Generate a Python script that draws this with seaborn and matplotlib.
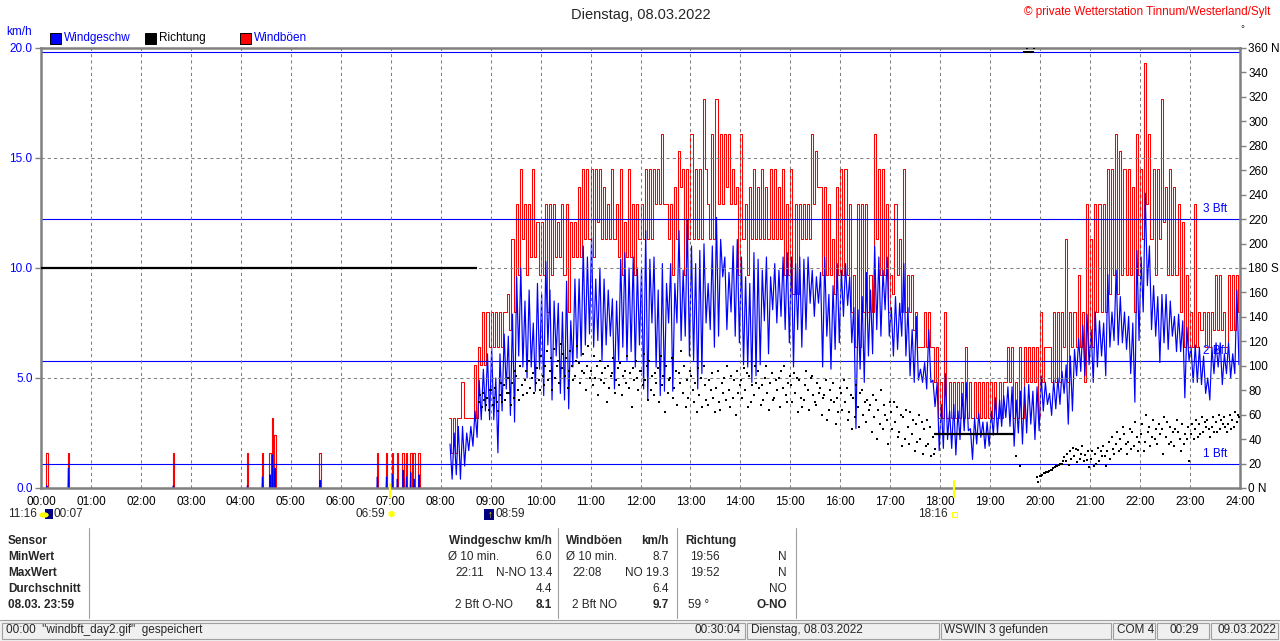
#!/usr/bin/python3
# coding: utf-8

import numpy as np
import matplotlib
matplotlib.use('Agg')
import matplotlib.pyplot as plt
from matplotlib.patches import Rectangle
from matplotlib.lines import Line2D
import seaborn as sns

W, H = 1280, 641
BLUE = '#0000ff'
RED = '#ff0000'
GRAY = '#808080'

## Quiet night: single gusts (time, gust km/h, wind km/h)
night_time = ['00:07', '00:33', '02:39', '04:08', '04:26', '04:35', '04:38', '04:41',
              '05:35', '06:44', '06:55', '07:02', '07:08', '07:15', '07:19', '07:24',
              '07:28', '07:34']
night_gust = [1.6, 1.6, 1.6, 1.6, 1.6, 1.6, 3.2, 2.4, 1.6, 1.6, 1.6, 1.6, 1.6, 1.6,
              1.6, 1.6, 1.6, 1.6]
night_wind = [0.1, 0.9, 0.1, 0.1, 0.5, 0.6, 1.5, 0.9, 0.35, 0.5, 0.5, 0.6, 0.4, 0.8,
              0.5, 0.7, 0.4, 0.6]

## From 08:10 on: 5 minute slots, highest and lowest value in each slot (km/h)
DAY_START = '08:10'
gust_hi = [3.2, 3.2, 3.2, 4.8, 3.2, 3.2, 5.6, 6.4, 8.0, 8.0,
           8.0, 8.0, 8.0, 8.0, 8.8, 11.3, 12.9, 14.5, 12.9, 12.9, 14.5, 12.1,
           12.1, 12.9, 12.9, 12.9, 12.1, 12.9, 12.9, 12.1, 12.1, 13.7, 14.5, 14.5,
           14.5, 14.5, 14.5, 13.7, 12.9, 14.5, 12.9, 14.5, 12.1, 14.5, 12.9, 12.9,
           12.9, 14.5, 14.5, 14.5, 14.5, 16.1, 12.9, 12.9, 13.7, 15.3, 14.5, 14.5,
           16.1, 14.5, 14.5, 17.7, 12.9, 16.1, 17.7, 16.1, 16.1, 16.1, 14.5, 13.7,
           16.1, 12.9, 13.7, 14.5, 13.7, 14.5, 13.7, 14.5, 14.5, 13.7, 14.5, 12.9,
           14.5, 12.9, 12.9, 12.9, 12.9, 16.1, 15.3, 13.7, 13.7, 12.9, 11.3, 13.7,
           14.5, 14.5, 12.9, 9.7, 12.9, 12.9, 12.9, 9.7, 16.1, 14.5, 14.5, 12.9,
           9.7, 12.9, 11.3, 14.5, 9.7, 9.7, 8.0, 6.4, 8.0, 8.0, 6.4, 6.4,
           4.8, 8.0, 4.8, 4.8, 4.8, 4.8, 6.4, 4.8, 4.8, 4.8, 4.8, 4.8,
           4.8, 4.8, 4.8, 4.8, 6.4, 6.4, 4.8, 6.4, 6.4, 6.4, 6.4, 6.4,
           8.0, 6.4, 6.4, 8.0, 8.0, 8.0, 11.3, 8.0, 8.0, 9.7, 8.0, 12.9,
           11.3, 12.9, 12.9, 12.9, 14.5, 14.5, 16.1, 15.3, 14.5, 14.5, 13.7, 16.1,
           14.5, 19.3, 16.1, 14.5, 14.5, 17.7, 13.7, 14.5, 13.7, 12.9, 12.1, 9.7,
           8.0, 12.9, 8.0, 8.0, 8.0, 8.0, 9.7, 9.7, 8.0, 9.7, 9.7, 9.7]
gust_lo = [1.6, 1.6, 3.2, 3.2, 3.2, 3.2, 3.2, 5.6, 5.6, 6.4,
           6.4, 6.4, 6.4, 8.0, 7.2, 8.0, 9.7, 11.3, 9.7, 10.5, 10.5, 9.7,
           9.7, 8.0, 9.7, 10.5, 10.5, 9.7, 8.0, 10.5, 10.5, 10.5, 11.3, 11.3,
           10.5, 12.1, 11.3, 11.3, 11.3, 11.3, 10.5, 9.7, 10.5, 10.5, 9.7, 11.3,
           11.3, 11.3, 11.3, 12.9, 12.9, 12.9, 11.3, 9.7, 11.3, 13.7, 9.7, 11.3,
           11.3, 11.3, 11.3, 14.5, 11.3, 11.3, 12.9, 12.9, 13.7, 12.9, 12.9, 9.7,
           11.3, 9.7, 11.3, 11.3, 11.3, 11.3, 11.3, 11.3, 11.3, 11.3, 9.7, 9.7,
           8.8, 8.8, 11.3, 11.3, 11.3, 12.9, 13.7, 9.7, 9.7, 9.7, 8.8, 9.7,
           9.7, 9.7, 8.0, 6.4, 6.4, 8.0, 8.0, 8.0, 11.3, 9.7, 9.7, 8.0,
           8.8, 9.7, 8.0, 8.0, 8.0, 7.2, 6.4, 6.4, 6.4, 6.4, 4.8, 3.2,
           3.2, 3.2, 3.2, 3.2, 3.2, 3.2, 3.2, 3.2, 3.2, 3.2, 3.2, 3.2,
           3.2, 3.2, 3.2, 4.8, 4.8, 3.2, 3.2, 3.2, 4.8, 4.8, 4.8, 3.2,
           4.8, 6.4, 4.8, 4.8, 4.8, 6.4, 4.8, 6.4, 6.4, 6.4, 4.8, 6.4,
           6.4, 8.0, 8.0, 8.0, 8.8, 9.7, 8.8, 9.7, 9.7, 9.7, 8.0, 9.7,
           11.3, 12.9, 11.3, 9.7, 11.3, 12.1, 9.7, 9.7, 9.7, 8.0, 6.4, 6.4,
           6.4, 6.4, 7.2, 6.4, 6.4, 7.2, 7.2, 7.2, 6.4, 7.2, 7.2, 8.0]
wind_hi = [2.0, 2.5, 2.8, 2.8, 2.5, 2.8, 3.5, 4.9, 5.4, 6.1,
           6.4, 5.0, 6.1, 7.0, 6.9, 7.9, 9.6, 10.0, 8.5, 9.0, 7.5, 9.3,
           8.8, 10.3, 9.0, 8.5, 8.4, 8.0, 9.4, 7.6, 9.5, 9.5, 11.0, 10.5,
           11.4, 9.5, 10.0, 9.5, 9.0, 8.6, 8.5, 10.4, 10.7, 10.0, 10.5, 10.0,
           10.0, 11.7, 10.4, 10.5, 9.0, 10.2, 9.3, 10.2, 9.3, 11.7, 9.9, 12.2,
           11.0, 10.2, 10.8, 11.1, 9.3, 11.0, 12.3, 11.3, 10.5, 9.8, 11.0, 11.3,
           10.5, 9.6, 9.3, 10.7, 10.4, 9.9, 10.5, 9.6, 10.2, 9.9, 10.5, 10.7,
           10.5, 10.2, 10.5, 10.4, 10.5, 9.9, 9.6, 9.8, 10.5, 8.8, 9.2, 10.2,
           9.9, 10.2, 9.6, 8.2, 8.1, 8.7, 9.8, 9.0, 11.0, 10.5, 9.9, 10.5,
           8.2, 8.7, 8.4, 10.2, 8.2, 7.2, 7.8, 5.4, 5.7, 7.2, 4.9, 4.8,
           3.8, 5.2, 3.5, 3.8, 3.5, 4.3, 4.8, 2.7, 3.2, 3.4, 3.0, 3.0,
           3.5, 4.1, 4.0, 4.2, 4.6, 4.6, 4.0, 4.4, 4.6, 4.7, 4.4, 4.6,
           5.1, 4.8, 4.3, 4.9, 5.0, 5.3, 5.6, 6.0, 6.3, 6.8, 7.4, 7.9,
           7.2, 8.0, 7.6, 7.5, 9.7, 8.0, 9.9, 8.7, 8.0, 7.8, 7.5, 10.8,
           10.5, 13.4, 11.0, 9.2, 8.7, 8.8, 8.8, 8.5, 7.8, 7.9, 7.6, 7.3,
           6.4, 6.5, 6.4, 6.0, 5.0, 6.4, 6.6, 6.6, 6.1, 6.6, 6.1, 9.0]
wind_lo = [0.4, 0.6, 0.4, 1.0, 1.7, 1.9, 2.3, 3.1, 3.5, 3.1,
           3.1, 1.6, 3.5, 4.5, 3.3, 3.0, 6.0, 5.5, 5.0, 5.5, 4.4, 5.4,
           4.2, 6.5, 4.0, 6.0, 4.3, 4.0, 3.6, 5.5, 5.9, 6.0, 6.5, 7.0,
           6.4, 6.7, 5.8, 6.5, 6.9, 4.5, 5.8, 6.4, 5.8, 6.2, 5.5, 6.5,
           4.5, 4.0, 7.5, 5.5, 4.2, 4.4, 7.5, 4.4, 7.5, 6.7, 6.9, 6.0,
           5.8, 4.5, 5.2, 7.5, 7.2, 6.4, 6.9, 9.6, 7.2, 8.0, 6.9, 6.6,
           5.6, 5.5, 4.8, 5.1, 5.6, 7.6, 6.1, 8.1, 7.5, 7.8, 7.2, 6.6,
           5.5, 7.2, 6.4, 7.2, 8.4, 7.8, 8.4, 5.5, 6.9, 5.4, 6.3, 6.6,
           7.8, 8.3, 6.6, 2.7, 5.4, 4.8, 6.0, 6.1, 7.2, 6.9, 8.1, 6.9,
           6.0, 6.3, 6.9, 6.0, 5.1, 4.8, 4.9, 4.8, 4.5, 4.8, 3.7, 1.7,
           1.8, 2.2, 1.8, 1.5, 2.2, 2.6, 2.6, 1.3, 2.0, 2.3, 1.8, 1.9,
           2.4, 2.5, 2.8, 3.2, 2.8, 1.9, 2.5, 2.0, 2.5, 2.9, 2.2, 2.6,
           3.5, 3.8, 3.3, 3.6, 3.8, 4.3, 2.9, 3.5, 5.1, 5.3, 5.1, 5.6,
           4.8, 5.5, 6.0, 5.1, 6.4, 6.7, 6.5, 6.6, 6.3, 5.2, 3.9, 6.7,
           8.0, 9.2, 7.2, 6.9, 5.7, 6.6, 6.3, 6.9, 6.2, 6.2, 4.1, 5.8,
           4.8, 4.8, 4.7, 4.3, 4.0, 5.2, 5.5, 4.7, 5.2, 5.0, 5.2, 5.6]

## Direction (degrees): steady periods drawn as a line
calm_start = ['00:00', '17:53']
calm_end = ['08:44', '19:29']
calm_dir = [180, 44]

## Direction samples from 08:45 on, three per 5 minute slot (nan = none)
DIR_START = '08:45'
nan = np.nan
dir_1 = [70, 78, 74,
         80, 82, 76, 84, 90, 86, 92, 100, 88, 104, 94, 98,
         108, 100, 96, 114, 104, 98, 106, 112, 92, 102, 110, 100,
         96, 90, 104, 86, 100, 94, 88, 102, 96, 82, 98, 90,
         96, 88, 104, 76, 98, 84, 100, 90, 82, 94, 78, 88,
         92, 86, 76, 100, 68, 94, 82, 64, 90, 80, 74, 96,
         88, 80, 92, 76, 96, 84, 100, 86, 74, 90, 82, 70,
         84, 78, 88, 72, 80, 92, 68, 82, 76, 64, 86, 74,
         78, 70, 62, 74, 66, 80, 54, 68, 58, 64, 48, 56,
         62, 54, 46, 58, 50, 44, 52, 40, 48, 36, 42, nan,
         nan, nan, nan, nan, nan, nan, nan, nan, nan, nan, nan, nan,
         nan, nan, nan, nan, nan, nan, 26, 18, 357, 357, 357, 9,
         10, 12, 14, 16, 18, 20, 22, 30, 26, 31, 34, 23,
         24, 28, 22, 34, 30, 42, 36, 40, 44, 38, 46, 42,
         44, 38, 50, 56, 36, 48, 42, 50, 34, 46, 52, 40,
         44, 48, 52, 46, 56, 50, 54, 48, 58, 52, 56, 54]
dir_2 = [76, 72, 64,
         68, 70, 86, 72, 78, 74, 80, 84, 96, 82, 78, 88,
         92, 112, 106, 90, 86, 110, 82, 100, 104, 86, 94, 116,
         84, 100, 88, 98, 82, 106, 98, 76, 86, 94, 88, 80,
         84, 100, 80, 94, 70, 92, 78, 106, 96, 86, 100, 74,
         80, 62, 90, 84, 88, 74, 96, 86, 72, 66, 88, 78,
         74, 94, 70, 100, 82, 72, 78, 94, 88, 66, 100, 86,
         70, 90, 74, 84, 64, 76, 86, 60, 88, 80, 70, 62,
         64, 82, 76, 58, 50, 60, 72, 46, 72, 52, 68, 36,
         48, 66, 60, 40, 36, 56, 38, 54, 34, 50, 28, nan,
         nan, nan, nan, nan, nan, nan, nan, nan, nan, nan, nan, nan,
         nan, nan, nan, nan, nan, nan, nan, nan, 357, 357, 360, 5,
         11, 13, 15, 17, 19, 22, 28, 24, 32, 24, 22, 30,
         30, 20, 30, 26, 38, 32, 46, 32, 36, 48, 34, 30,
         52, 60, 34, 40, 52, 28, 54, 38, 48, 40, 36, 50,
         52, 56, 44, 54, 48, 58, 46, 56, 50, 60, 50, 60]
dir_3 = [66, 68, 80,
         74, 63, 70, 78, 68, 96, 72, 76, 78, 90, 86, 80,
         84, 88, 80, 100, 118, 92, 96, 88, 116, 96, 80, 90,
         108, 76, 94, 70, 92, 78, 84, 92, 108, 66, 104, 96,
         110, 72, 92, 86, 108, 62, 88, 74, 68, 112, 66, 96,
         70, 98, 66, 72, 80, 62, 70, 78, 100, 92, 60, 84,
         98, 66, 84, 86, 68, 90, 64, 72, 80, 96, 76, 92,
         94, 62, 66, 96, 90, 70, 78, 74, 56, 72, 52, 82,
         88, 56, 48, 84, 78, 70, 64, 76, 40, 80, 60, 70,
         70, 42, 34, 64, 62, 30, 60, 28, 56, 26, 32, nan,
         nan, nan, nan, nan, nan, nan, nan, nan, nan, nan, nan, nan,
         nan, nan, nan, nan, nan, nan, nan, nan, 360, 357, nan, 10,
         12, 13, 15, 18, 20, 25, 19, 33, 21, 28, 27, 17,
         18, 33, 26, 18, 24, 28, 30, 50, 28, 32, 54, 38,
         30, 46, 42, 48, 44, 58, 36, 46, 56, 30, 44, 22,
         40, 42, 58, 50, 42, 46, 60, 52, 46, 48, 62, 58]

## Beaufort limits (km/h) and their labels
bft_kmh = [1.08, 5.76, 12.24, 19.8]
bft_label = ['1 Bft', '2 Bft', '3 Bft', '']

hour_labels = ['%02d:00' % h for h in range(25)]
speed_ticks = [0, 5, 10, 15, 20]
dir_ticks = list(range(0, 361, 20))
dir_names = {0: 'N', 180: 'S', 360: 'N'}


def hm(s):
    h, m = s.split(':')
    return int(h) + int(m) / 60.0


def fx(x):
    return x / W


def fy(y):
    return 1.0 - y / H


sns.set_theme(style='white')
plt.rcParams['font.family'] = ['Liberation Sans', 'DejaVu Sans']
plt.rcParams['font.size'] = 8.5

fig = plt.figure(figsize=(W / 100, H / 100), dpi=100, facecolor='white')
ax = fig.add_axes([fx(41), fy(488), fx(1240) - fx(41), fy(48) - fy(488)])
ax.set_facecolor('white')

## Grid and Beaufort lines (drawn over the data, as in WSWIN)
for h in range(1, 24):
    ax.axvline(h, color=GRAY, lw=0.75, ls=(0, (3, 3)), zorder=5)
for v in speed_ticks[1:-1]:
    ax.axhline(v, color=GRAY, lw=0.75, ls=(0, (3, 3)), zorder=5)
for v, lab in zip(bft_kmh, bft_label):
    ax.axhline(v, color=BLUE, lw=0.8, zorder=3.5)
    if lab:
        ax.text(23.75, v + 0.18, lab, color=BLUE, fontsize=8.5, ha='right', va='bottom', zorder=1.3)

## Night gusts and wind
nt = np.array([hm(s) for s in night_time])
ngx = np.concatenate([[0.0], np.column_stack([nt - 1 / 60, nt + 1 / 60]).ravel()])
ngy = np.concatenate([[0.0], np.column_stack([night_gust, np.zeros(len(nt))]).ravel()])
sns.lineplot(x=ngx, y=ngy, ax=ax, color=RED, lw=0.8, drawstyle='steps-post',
             estimator=None, sort=False, zorder=3)
for t, w in zip(nt, night_wind):
    sns.lineplot(x=[t - 0.5 / 60, t, t + 0.5 / 60], y=[0, w, 0], ax=ax, color=BLUE, lw=0.9,
                 estimator=None, sort=False, zorder=4)

## Day gusts (steps) and wind (zigzag through slot extremes)
slot = 5 / 60
starts = hm(DAY_START) + slot * np.arange(len(gust_hi))
gx = np.append(np.column_stack([starts, starts + slot / 2]).ravel(), 24.0)
gy = np.append(np.column_stack([gust_hi, gust_lo]).ravel(), gust_lo[-1])
sns.lineplot(x=gx, y=gy, ax=ax, color=RED, lw=0.75, drawstyle='steps-post',
             estimator=None, sort=False, zorder=3)
wx = np.column_stack([starts + slot / 4, starts + 3 * slot / 4]).ravel()
wy = np.column_stack([wind_hi, wind_lo]).ravel()
sns.lineplot(x=wx, y=wy, ax=ax, color=BLUE, lw=0.85, estimator=None, sort=False, zorder=4)

ax.set_xlim(0, 24)
ax.set_ylim(0, 20)
ax.set_xticks(range(25))
ax.set_xticklabels(hour_labels, fontsize=8.5, color='black')
ax.set_yticks(speed_ticks)
ax.set_yticklabels(['%.1f' % v for v in speed_ticks], fontsize=8.5, color=BLUE)
ax.tick_params(axis='both', direction='out', length=4, width=1, color=GRAY, pad=2)
ax.tick_params(axis='x', length=3, pad=3)
ax.set_xlabel('')
ax.set_ylabel('')
for s in ax.spines.values():
    s.set_color(GRAY)
    s.set_linewidth(1.8)
    s.set_visible(True)
    s.set_zorder(6)

## Direction on the right axis
ax2 = ax.twinx()
ax2.set_ylim(0, 360)
for a, b, d in zip(calm_start, calm_end, calm_dir):
    ax2.hlines(d, hm(a), hm(b), color='black', lw=1.6)
ds = hm(DIR_START) + slot * np.arange(len(dir_1))
dx = np.concatenate([ds + 0.8 / 60, ds + 2.5 / 60, ds + 4.2 / 60])
dy = np.concatenate([dir_1, dir_2, dir_3])
ok = ~np.isnan(dy)
sns.scatterplot(x=dx[ok], y=dy[ok], ax=ax2, marker='s', s=4, color='black', linewidth=0)
ax2.set_yticks(dir_ticks)
ax2.set_yticklabels(['%d %s' % (v, dir_names[v]) if v in dir_names else str(v) for v in dir_ticks],
                    fontsize=8.5, color='black')
ax2.tick_params(axis='y', direction='out', length=4, width=1, color=GRAY, pad=2)
ax2.set_ylabel('')
for s in ax2.spines.values():
    s.set_visible(False)
ax2.set_xlim(0, 24)

## Header texts and legend
fig.text(fx(641), fy(15), 'Dienstag, 08.03.2022', ha='center', va='center', fontsize=10.5)
fig.text(fx(1270), fy(12), '\u00a9 private Wetterstation Tinnum/Westerland/Sylt', color=RED,
         ha='right', va='center', fontsize=8.5)
fig.text(fx(1242), fy(29), '\u00b0', ha='center', va='center', fontsize=7)
fig.text(fx(6), fy(32), 'km/h', color=BLUE, ha='left', va='center', fontsize=8.5)
legend = [(50, BLUE, 'Windgeschw', BLUE), (145, 'black', 'Richtung', 'black'),
          (240, RED, 'Windb\u00f6en', BLUE)]
for x0, fc, lab, tc in legend:
    fig.add_artist(Rectangle((fx(x0), fy(44)), 11 / W, 11 / H, facecolor=fc, edgecolor='black',
                             lw=0.7, transform=fig.transFigure))
    fig.text(fx(x0 + 14), fy(38), lab, color=tc, ha='left', va='center', fontsize=8.5)

## Sun and moon times below the time axis
for xp, y0 in [(390, 484), (954, 481)]:
    fig.add_artist(Line2D([fx(xp), fx(xp)], [fy(y0), fy(497)], color='#ffff00', lw=1.5,
                          transform=fig.transFigure))
fig.text(fx(37), fy(514), '11:16', ha='right', va='center', fontsize=8.5)
fig.add_artist(Rectangle((fx(45), fy(519)), 8 / W, 10 / H, facecolor='#000080', lw=0,
                         transform=fig.transFigure))
fig.add_artist(plt.Circle((fx(44), fy(515)), 4 / W, color='#ffff00', transform=fig.transFigure))
fig.text(fx(54), fy(514), '00:07', ha='left', va='center', fontsize=8.5)
fig.text(fx(385), fy(514), '06:59', ha='right', va='center', fontsize=8.5)
fig.text(fx(391), fy(515), '\u2739', color='#ffff00', ha='center', va='center', fontsize=8,
         family=['DejaVu Sans'])
fig.add_artist(Rectangle((fx(484), fy(520)), 10 / W, 11 / H, facecolor='#000080', lw=0,
                         transform=fig.transFigure))
fig.text(fx(490), fy(515), '\u2191', color='#ffff00', ha='center', va='center', fontsize=7)
fig.text(fx(496), fy(514), '08:59', ha='left', va='center', fontsize=8.5)
fig.text(fx(948), fy(514), '18:16', ha='right', va='center', fontsize=8.5)
fig.add_artist(Rectangle((fx(952), fy(517)), 5 / W, 5 / H, facecolor='white', edgecolor='#ffff00',
                         lw=0.8, transform=fig.transFigure))

## Statistics table
rows_y = [541, 557, 573, 589, 605]
for y, lab in zip(rows_y, ['Sensor', 'MinWert', 'MaxWert', 'Durchschnitt', '08.03. 23:59']):
    fig.text(fx(8), fy(y), lab, ha='left', va='center', fontsize=8.5, weight='bold')
for xs in [89, 558, 677, 796]:
    fig.add_artist(Line2D([fx(xs), fx(xs)], [fy(528), fy(618)], color='#a0a0a0', lw=0.8,
                          transform=fig.transFigure))
cells = [
    (552, 541, 'Windgeschw km/h', 'right', True), (448, 557, '\u00d8 10 min.', 'left', False),
    (552, 557, '6.0', 'right', False), (455, 573, '22:11', 'left', False),
    (552, 573, 'N-NO 13.4', 'right', False), (552, 589, '4.4', 'right', False),
    (455, 605, '2 Bft O-NO', 'left', False), (552, 605, '8.1', 'right', True),
    (566, 541, 'Windb\u00f6en', 'left', True), (669, 541, 'km/h', 'right', True),
    (566, 557, '\u00d8 10 min.', 'left', False), (669, 557, '8.7', 'right', False),
    (572, 573, '22:08', 'left', False), (669, 573, 'NO 19.3', 'right', False),
    (669, 589, '6.4', 'right', False), (572, 605, '2 Bft NO', 'left', False),
    (669, 605, '9.7', 'right', True),
    (685, 541, 'Richtung', 'left', True), (690, 557, '19:56', 'left', False),
    (787, 557, 'N', 'right', False), (690, 573, '19:52', 'left', False),
    (787, 573, 'N', 'right', False), (787, 589, 'NO', 'right', False),
    (688, 605, '59 \u00b0', 'left', False), (787, 605, 'O-NO', 'right', True),
]
for x, y, txt, ha, bold in cells:
    fig.text(fx(x), fy(y), txt, ha=ha, va='center', fontsize=8.5,
             weight='bold' if bold else 'normal')

## Status bar
fig.add_artist(Rectangle((0, 0), 1, fy(620), facecolor='#f0f0f0', edgecolor='none',
                         transform=fig.transFigure))
fig.add_artist(Line2D([0, 1], [fy(620), fy(620)], color='#a0a0a0', lw=0.8,
                      transform=fig.transFigure))
for a, b in [(2, 745), (747, 939), (941, 1111), (1113, 1155), (1157, 1209), (1211, 1278)]:
    fig.add_artist(Rectangle((fx(a), fy(639)), (b - a) / W, 16 / H, facecolor='#f0f0f0',
                             edgecolor='#a0a0a0', lw=0.8, transform=fig.transFigure))
status = [(6, 'left', '00:00  "windbft_day2.gif"  gespeichert'), (741, 'right', '00:30:04'),
          (751, 'left', 'Dienstag, 08.03.2022'), (944, 'left', 'WSWIN 3 gefunden'),
          (1117, 'left', 'COM 4'), (1170, 'left', '00:29'), (1218, 'left', '09.03.2022')]
for x, ha, txt in status:
    fig.text(fx(x), fy(630), txt, ha=ha, va='center', fontsize=8.5)

fig.savefig('out.png', dpi=100, facecolor='white')
